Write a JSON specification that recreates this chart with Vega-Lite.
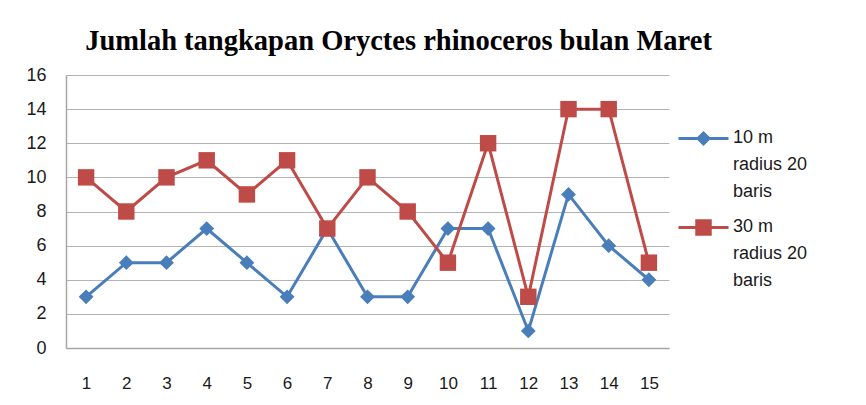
{
  "$schema": "https://vega.github.io/schema/vega-lite/v6.json",
  "width": 603,
  "height": 273,
  "padding": {"left": 25, "top": 26, "right": 5, "bottom": 5},
  "title": {
    "text": "Jumlah tangkapan Oryctes rhinoceros bulan Maret",
    "font": "Liberation Serif",
    "fontSize": 28.5,
    "fontWeight": "bold",
    "color": "#000000",
    "anchor": "middle",
    "dx": 31,
    "offset": 11
  },
  "data": {
    "values": [
      {"x": 1, "series": "10 m|radius 20|baris", "v": 3},
      {"x": 2, "series": "10 m|radius 20|baris", "v": 5},
      {"x": 3, "series": "10 m|radius 20|baris", "v": 5},
      {"x": 4, "series": "10 m|radius 20|baris", "v": 7},
      {"x": 5, "series": "10 m|radius 20|baris", "v": 5},
      {"x": 6, "series": "10 m|radius 20|baris", "v": 3},
      {"x": 7, "series": "10 m|radius 20|baris", "v": 7},
      {"x": 8, "series": "10 m|radius 20|baris", "v": 3},
      {"x": 9, "series": "10 m|radius 20|baris", "v": 3},
      {"x": 10, "series": "10 m|radius 20|baris", "v": 7},
      {"x": 11, "series": "10 m|radius 20|baris", "v": 7},
      {"x": 12, "series": "10 m|radius 20|baris", "v": 1},
      {"x": 13, "series": "10 m|radius 20|baris", "v": 9},
      {"x": 14, "series": "10 m|radius 20|baris", "v": 6},
      {"x": 15, "series": "10 m|radius 20|baris", "v": 4},
      {"x": 1, "series": "30 m|radius 20|baris", "v": 10},
      {"x": 2, "series": "30 m|radius 20|baris", "v": 8},
      {"x": 3, "series": "30 m|radius 20|baris", "v": 10},
      {"x": 4, "series": "30 m|radius 20|baris", "v": 11},
      {"x": 5, "series": "30 m|radius 20|baris", "v": 9},
      {"x": 6, "series": "30 m|radius 20|baris", "v": 11},
      {"x": 7, "series": "30 m|radius 20|baris", "v": 7},
      {"x": 8, "series": "30 m|radius 20|baris", "v": 10},
      {"x": 9, "series": "30 m|radius 20|baris", "v": 8},
      {"x": 10, "series": "30 m|radius 20|baris", "v": 5},
      {"x": 11, "series": "30 m|radius 20|baris", "v": 12},
      {"x": 12, "series": "30 m|radius 20|baris", "v": 3},
      {"x": 13, "series": "30 m|radius 20|baris", "v": 14},
      {"x": 14, "series": "30 m|radius 20|baris", "v": 14},
      {"x": 15, "series": "30 m|radius 20|baris", "v": 5}
    ]
  },
  "encoding": {
    "x": {
      "field": "x",
      "type": "ordinal",
      "scale": {"type": "point", "padding": 0.5},
      "axis": {
        "title": null,
        "labelAngle": 0,
        "ticks": false,
        "grid": false,
        "domainColor": "#a6a6a6",
        "domainWidth": 1.5,
        "labelFont": "Liberation Sans",
        "labelFontSize": 17,
        "labelColor": "#1a1a1a",
        "labelPadding": 27
      }
    },
    "y": {
      "field": "v",
      "type": "quantitative",
      "scale": {"domain": [0, 16], "nice": false},
      "axis": {
        "title": null,
        "values": [0, 2, 4, 6, 8, 10, 12, 14, 16],
        "ticks": false,
        "grid": true,
        "gridColor": "#b3b3b3",
        "gridWidth": 1,
        "domainColor": "#a6a6a6",
        "domainWidth": 1.5,
        "labelFont": "Liberation Sans",
        "labelFontSize": 18,
        "labelColor": "#1a1a1a",
        "labelPadding": 20
      }
    },
    "color": {
      "field": "series",
      "type": "nominal",
      "scale": {"range": ["#4a7ebb", "#be4b48"]},
      "legend": {
        "title": null,
        "orient": "none",
        "legendX": 611,
        "legendY": 37,
        "labelExpr": "split(datum.label, '|')",
        "labelFont": "Liberation Sans",
        "labelFontSize": 18,
        "labelColor": "#1a1a1a",
        "labelOffset": 3,
        "labelLimit": 200,
        "symbolSize": 2500,
        "symbolStrokeWidth": 3,
        "rowPadding": -10,
        "encode": {
          "symbols": {
            "update": {
              "shape": {"signal": "indexof(datum.value, '10 m') == 0 ? 'M-1,0H1M0,-0.22L0.22,0L0,0.22L-0.22,0Z' : 'M-1,0H1M-0.27,-0.27H0.27V0.27H-0.27Z'"},
              "fill": {"scale": "color", "field": "value"},
              "stroke": {"scale": "color", "field": "value"},
              "strokeWidth": {"value": 3}
            }
          },
          "labels": {
            "update": {
              "lineHeight": {"value": 27},
              "baseline": {"value": "top"},
              "dy": {"value": -10}
            }
          }
        }
      }
    }
  },
  "layer": [
    {"mark": {"type": "line", "strokeWidth": 3}},
    {
      "mark": {"type": "point", "filled": true, "opacity": 1},
      "encoding": {
        "shape": {
          "field": "series",
          "type": "nominal",
          "scale": {"range": ["diamond", "square"]},
          "legend": null
        },
        "size": {
          "field": "series",
          "type": "nominal",
          "scale": {"range": [220, 270]},
          "legend": null
        }
      }
    }
  ],
  "config": {
    "view": {"stroke": null},
    "background": "#ffffff"
  }
}
